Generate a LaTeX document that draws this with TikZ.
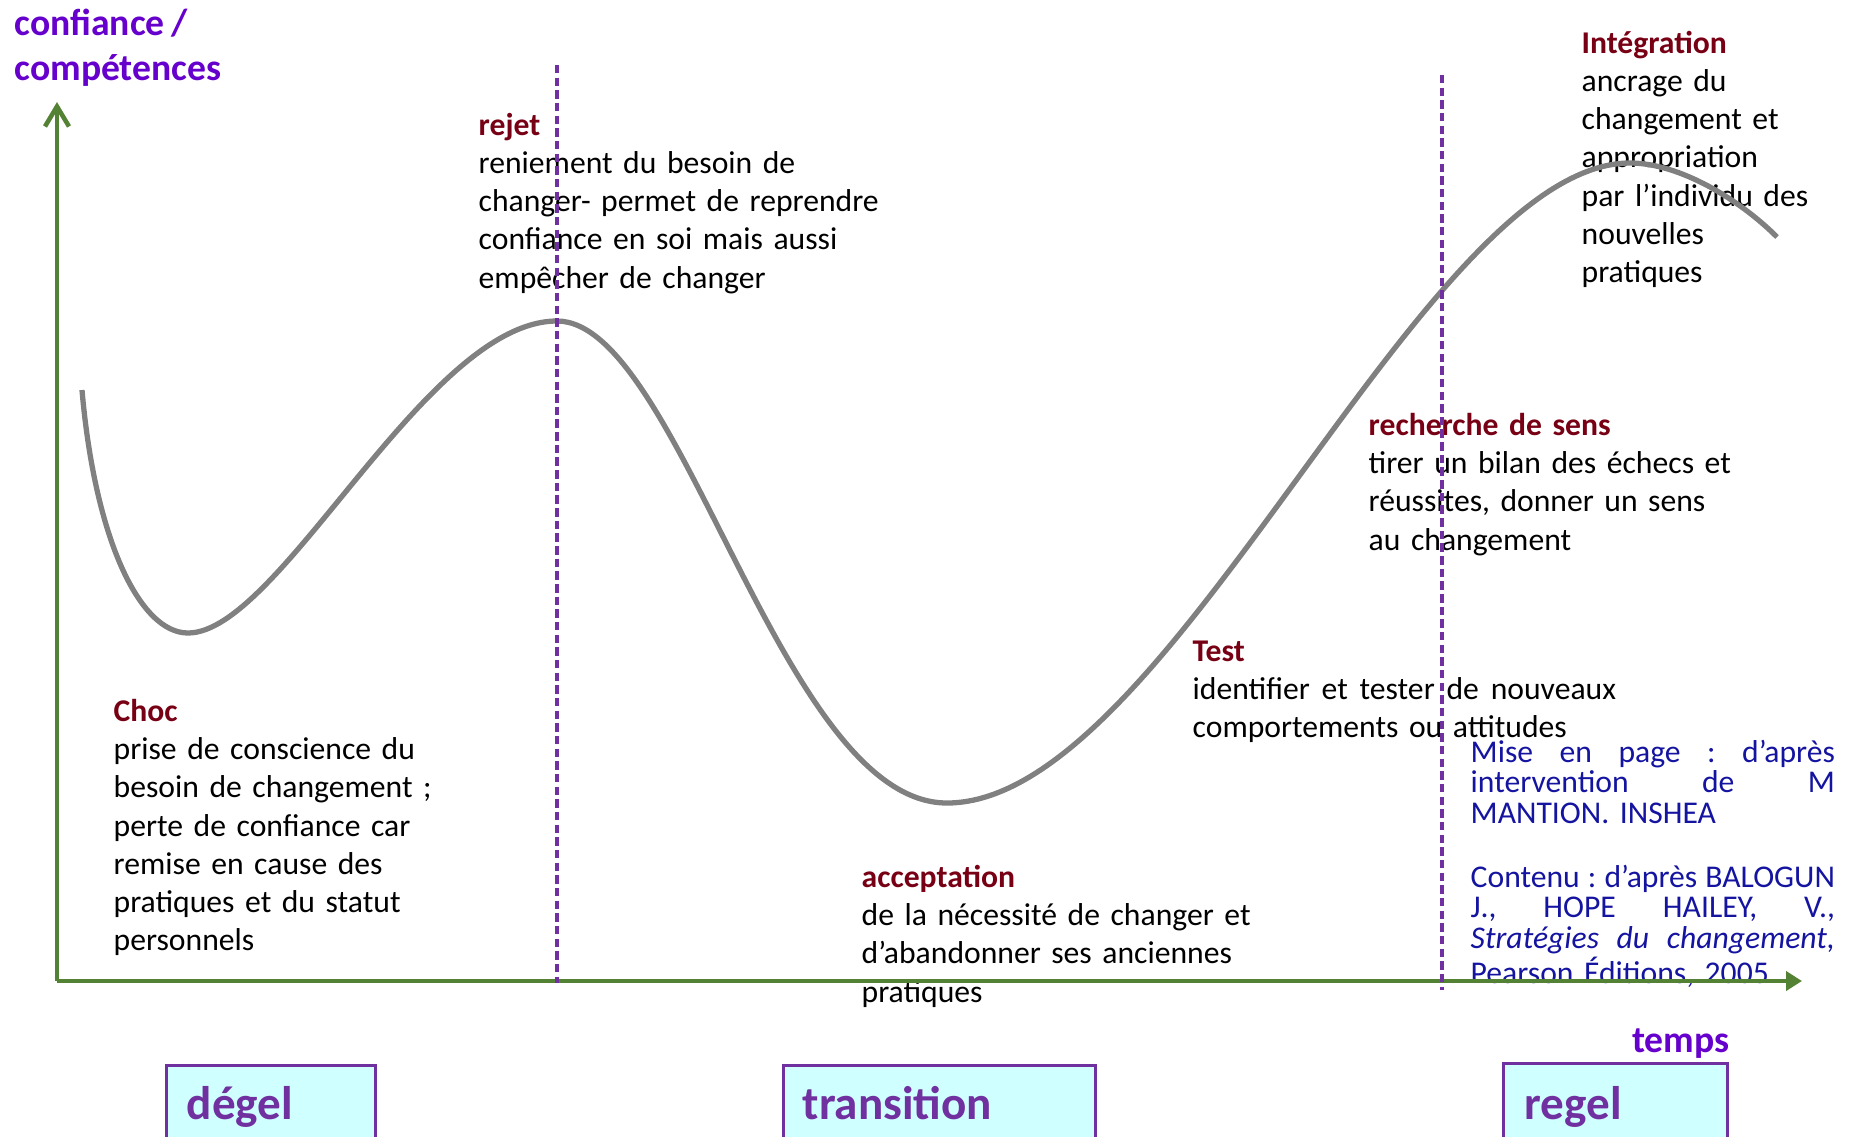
\documentclass[tikz,border=0pt]{standalone}
\usepackage{fontspec}
\setmainfont{Carlito}
\usetikzlibrary{arrows.meta}

\definecolor{vertaxe}{RGB}{84,130,53}
\definecolor{grisc}{RGB}{128,128,128}
\definecolor{violetp}{RGB}{112,48,160}
\definecolor{violett}{RGB}{102,0,204}
\definecolor{rougeet}{RGB}{120,0,20}
\definecolor{bleus}{RGB}{20,20,160}
\definecolor{cyanp}{RGB}{208,255,255}

\begin{document}
\begin{tikzpicture}[
        % un pas = un pixel de l'image
        x=0.01cm, y=-0.01cm,
        % Styles des axes, de la courbe et des textes
        axe/.style={line width=1.3pt, draw=vertaxe},
        courbe/.style={line width=1.5pt, draw=grisc},
        seuil/.style={line width=1pt, draw=violetp, dash pattern=on 2.4pt off 1.2pt},
        titre/.style={anchor=base west, inner sep=0pt, text width=3cm, align=left, text=violett, font=\bfseries\fontsize{10.7}{12.8}\selectfont},
        etape/.style={anchor=base west, inner sep=0pt, text width=5cm, align=left, font=\fontsize{9}{10.9}\selectfont},
        source/.style={anchor=base west, inner sep=0pt, text width=3.64cm, align=left, text=bleus, font=\fontsize{9}{8.7}\selectfont},
        phase/.style={anchor=north west, draw=violetp, line width=0.8pt, fill=cyanp, minimum height=1cm, inner sep=0pt},
        nomphase/.style={anchor=base west, inner sep=0pt, text=violetp, font=\bfseries\fontsize{13.4}{16}\selectfont}
    ]
    \useasboundingbox (0,0) rectangle (1854,1136);
    \clip (0,0) rectangle (1854,1136);

    % ==============================
    % Titres des axes
    % ==============================
    \node[titre] (ordonnee) at (14,35) {confiance\,/\\compétences};
    \node[titre, text width=, align=right, anchor=base east] (temps) at (1730,1052) {temps};

    % ==============================
    % Textes des étapes
    % ==============================
    \node[etape] (choc) at (113,721) {\textcolor{rougeet}{\bfseries Choc}\\
        prise de conscience du\\besoin de changement ;\\perte de confiance car\\
        remise en cause des\\pratiques et du statut\\personnels};
    \node[etape] (rejet) at (478,135) {\textcolor{rougeet}{\bfseries rejet}\\
        reniement du besoin de\\changer- permet de reprendre\\
        confiance en soi mais aussi\\empêcher de changer};
    \node[etape] (acceptation) at (861,887) {\textcolor{rougeet}{\bfseries acceptation}\\
        de la nécessité de changer et\\d’abandonner ses anciennes\\pratiques};
    \node[etape] (test) at (1192,661) {\textcolor{rougeet}{\bfseries Test}\\
        \makebox[4.23cm]{identifier\hfill et\hfill tester\hfill de\hfill nouveaux}\\comportements ou attitudes};
    \node[etape] (sens) at (1368,435) {\textcolor{rougeet}{\bfseries recherche de sens}\\
        tirer un bilan des échecs et\\réussites, donner un sens\\au changement};
    \node[etape] (integration) at (1581,53) {\textcolor{rougeet}{\bfseries Intégration}\\
        ancrage du\\changement et\\appropriation\\par l’individu des\\nouvelles\\pratiques};

    % Sources
    \node[source] (miseenpage) at (1470,762) {\lineskiplimit=-10pt
        \makebox[3.64cm]{Mise\hfill en\hfill page\hfill :\hfill d’après}\\
        \makebox[3.64cm]{intervention\hfill de\hfill M}\\MANTION. INSHEA};
    \node[source] (contenu) at (1470,887) {\lineskiplimit=-10pt
        \makebox[3.64cm]{Contenu\hfill:\hfill d’après\hfill BALOGUN}\\
        \makebox[3.64cm]{J.,\hfill HOPE\hfill HAILEY,\hfill V.,}\\
        \makebox[3.64cm]{\itshape Stratégies\hfill du\hfill changement,}\\Pearson Éditions, 2005};

    % ==============================
    % Courbe du changement
    % ==============================
    \coordinate (depart) at (82,390);
    \coordinate (creux1) at (188,633);
    \coordinate (sommet1) at (557,321);
    \coordinate (creux2) at (947,803);
    \coordinate (sommet2) at (1630,163);
    \coordinate (arrivee) at (1777,237);
    \draw[courbe] (depart) .. controls (95,540) and (140,633) .. (creux1)
        .. controls (280,633) and (426,321) .. (sommet1)
        .. controls (680,321) and (781,803) .. (creux2)
        .. controls (1170,803) and (1422,163) .. (sommet2)
        .. controls (1680,163) and (1740,200) .. (arrivee);

    % ==============================
    % Axes
    % ==============================
    \coordinate (origine) at (57,981);
    \coordinate (haut) at (57,102);
    \coordinate (droite) at (1802,981);
    \draw[axe, -{Straight Barb[length=2mm, width=2.4mm]}] (origine) -- (haut);
    \draw[axe, -{Triangle[length=1.6mm, width=1.9mm]}] (origine) -- (droite);

    % Seuils entre les phases
    \coordinate (seuil1h) at (557,65);
    \coordinate (seuil1b) at (557,983);
    \coordinate (seuil2h) at (1442,75);
    \coordinate (seuil2b) at (1442,990);
    \draw[seuil] (seuil1h) -- (seuil1b);
    \draw[seuil] (seuil2h) -- (seuil2b);

    % ==============================
    % Phases
    % ==============================
    \node[phase, minimum width=2.09cm] (degel) at (165,1064) {};
    \node[phase, minimum width=3.12cm] (transition) at (782,1064) {};
    \node[phase, minimum width=2.24cm] (regel) at (1502,1062) {};
    \node[nomphase] (degel-nom) at (186,1119) {dégel};
    \node[nomphase] (transition-nom) at (802,1119) {transition};
    \node[nomphase] (regel-nom) at (1524,1119) {regel};

\end{tikzpicture}
\end{document}
